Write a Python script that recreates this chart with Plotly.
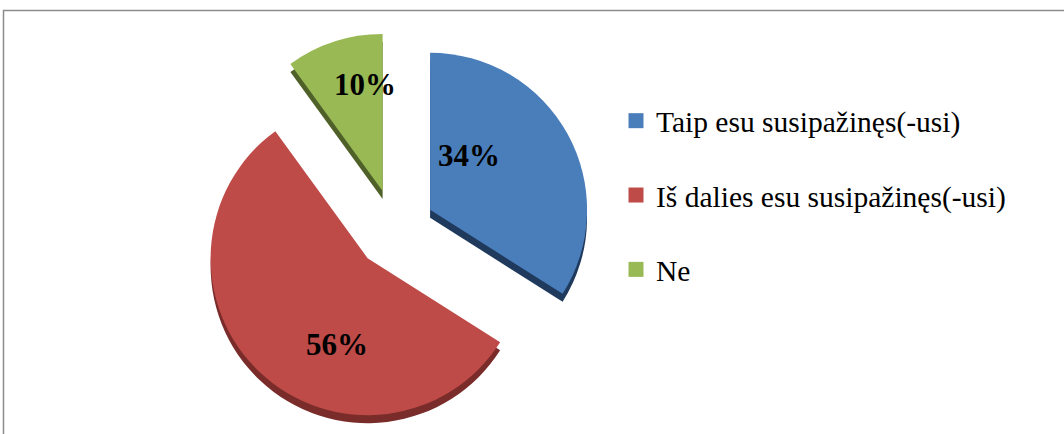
import plotly.graph_objects as go

# Survey answers (share of respondents, %)
categories = ["Taip esu susipažinęs(-usi)", "Iš dalies esu susipažinęs(-usi)", "Ne"]
shares = [34, 56, 10]

top_colors = ["#4A7EBB", "#BE4B48", "#98B954"]
side_colors = ["#1F3A5C", "#7A2C2A", "#4F6128"]

W, H = 1064, 434
pull = 0.255
depth = 8  # px thickness of the extruded edge

# pie box in pixels (left, top, size)
box_l, box_t, box_s = 198, 32, 394
dom_x = [box_l / W, (box_l + box_s) / W]
dom_y = [1 - (box_t + box_s) / H, 1 - box_t / H]
dom_y_side = [dom_y[0] - depth / H, dom_y[1] - depth / H]

# where each percentage label sits (pixel centres)
label_px = [(469, 155), (337, 344), (365, 84)]

fig = go.Figure()

# extruded side (drawn underneath, shifted down)
fig.add_trace(go.Pie(
    labels=categories, values=shares, sort=False, direction="clockwise",
    rotation=0, pull=[pull] * 3, domain=dict(x=dom_x, y=dom_y_side),
    marker=dict(colors=side_colors, line=dict(width=0)),
    textinfo="none", hoverinfo="skip", showlegend=False,
))

# top face
fig.add_trace(go.Pie(
    labels=categories, values=shares, sort=False, direction="clockwise",
    rotation=0, pull=[pull] * 3, domain=dict(x=dom_x, y=dom_y),
    marker=dict(colors=top_colors, line=dict(width=0)),
    textinfo="none", showlegend=False,
))

# legend entries
for name, col in zip(categories, top_colors):
    fig.add_trace(go.Scatter(
        x=[None], y=[None], mode="markers", name=name, legendgroup=name,
        marker=dict(symbol="square", size=15, color=col),
    ))

annotations = [
    dict(
        text=f"{v}%", x=px / W, y=1 - py / H, xref="paper", yref="paper",
        xanchor="center", yanchor="middle", showarrow=False,
        font=dict(family="Liberation Serif", size=31, color="black", weight="bold"),
    )
    for v, (px, py) in zip(shares, label_px)
]

fig.update_layout(
    width=W, height=H,
    margin=dict(l=0, r=0, t=0, b=0),
    paper_bgcolor="white", plot_bgcolor="white",
    xaxis=dict(visible=False), yaxis=dict(visible=False),
    annotations=annotations,
    legend=dict(
        x=616 / W, y=1 - 95 / H, xanchor="left", yanchor="top",
        font=dict(family="Liberation Serif", size=29.5, color="black"),
        tracegroupgap=33, itemwidth=30, bgcolor="rgba(0,0,0,0)",
    ),
    shapes=[dict(
        type="rect", xref="paper", yref="paper",
        x0=3.5 / W, x1=1.02, y0=-0.05, y1=1 - 10.5 / H,
        line=dict(color="#8C8C8C", width=1.5), fillcolor="rgba(0,0,0,0)",
        layer="below",
    )],
)

fig.write_html("out.html")
